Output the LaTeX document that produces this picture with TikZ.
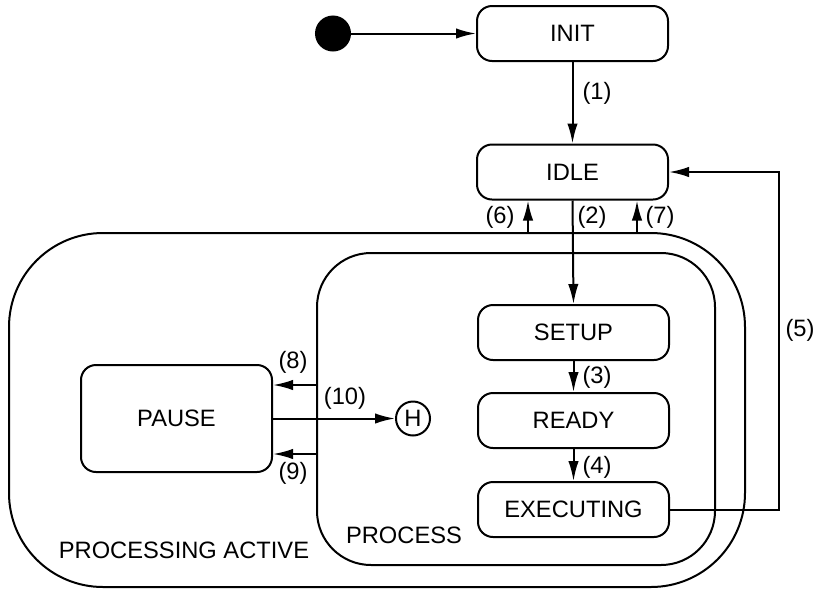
\documentclass[tikz,border=0pt]{standalone}
\usepackage{fontspec}
\setmainfont{Liberation Sans}
\usetikzlibrary{arrows.meta,positioning}

\begin{document}
\begin{tikzpicture}[x=0.5pt,y=-0.5pt,line width=1pt,
  every node/.append style={inner sep=0pt,font=\fontsize{11.85}{14}\selectfont},
  state/.style={draw,rounded corners=7.5pt,minimum width=95.5pt,minimum height=27.5pt},
  region/.style={draw,minimum width=#1},
  arr/.style={-{Latex[length=10pt,width=5.2pt]}}]
\useasboundingbox (0,0) rectangle (819,590);
\node [region=368pt,minimum height=177pt,rounded corners=47pt] (active) at (377,410) {};
\node [region=199pt,minimum height=156pt,rounded corners=27pt] (process) at (516,409) {};
\node [draw,fill,circle,minimum size=17pt] (start) at (333,33.5) {};
\node [state] (init) at (572.5,33.5) {INIT};
\node [state] (idle) at (572.5,172) {IDLE};
\node [state] (setup) at (573.5,332.5) {SETUP};
\node [state] (ready) at (573.5,420.5) {READY};
\node [state] (exec) at (573.5,509.5) {EXECUTING};
\node [state,minimum height=53.5pt] (pause) at (176.5,418.5) {PAUSE};
\node [draw,circle,minimum size=17pt] (hist) at (413,418.5) {H};
\node (tactive) at (184,550) {PROCESSING ACTIVE};
\node (tprocess) at (404,535) {PROCESS};
\coordinate (a6) at (528,233);
\coordinate (a7) at (637,233);
\coordinate (a8) at (317,385);
\coordinate (a9) at (317,454);
\draw [arr] (start) -- (init);
\draw [arr] (init) -- (idle);
\node (l1) at (597,93) {(1)};
\draw [arr] (idle.south) -- (setup.north);
\node (l2) at (592,217) {(2)};
\draw [arr] (setup) -- (ready);
\node (l3) at (597,377) {(3)};
\draw [arr] (ready) -- (exec);
\node (l4) at (597,467) {(4)};
\draw [arr] (exec.east) -- ++(109,0) |- (idle.east);
\node (l5) at (800,330) {(5)};
\draw [arr] (a6) -- (a6 |- idle.south);
\node (l6) at (500,217) {(6)};
\draw [arr] (a7) -- (a7 |- idle.south);
\node (l7) at (660,217) {(7)};
\draw [arr] (a8) -- (a8 -| pause.east);
\node (l8) at (293,362) {(8)};
\draw [arr] (a9) -- (a9 -| pause.east);
\node (l9) at (293,473) {(9)};
\draw [arr] (pause.east) -- (hist.west);
\node (l10) at (345,398) {(10)};
\end{tikzpicture}
\end{document}
